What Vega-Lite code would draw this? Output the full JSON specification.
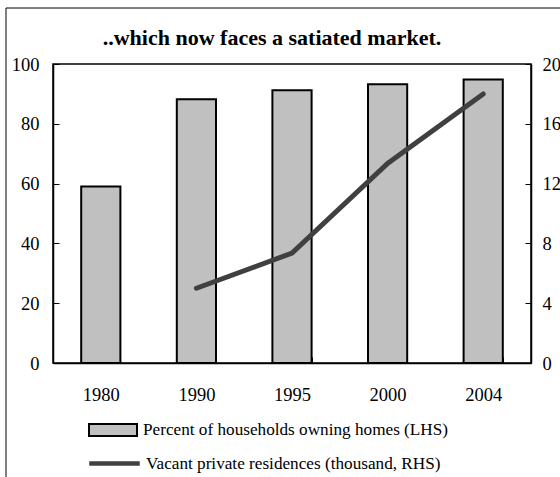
{
  "$schema": "https://vega.github.io/schema/vega-lite/v6.json",
  "width": 478,
  "height": 299,
  "autosize": "none",
  "padding": {"left": 53, "top": 64, "right": 29, "bottom": 114},
  "background": "white",
  "title": {
    "text": "..which now faces a satiated market.",
    "font": "Liberation Serif",
    "fontSize": 22,
    "fontWeight": "bold",
    "color": "black",
    "anchor": "middle",
    "frame": "group",
    "dx": -20,
    "offset": -43
  },
  "data": {
    "values": [
      {"year": "1980", "pct": 59, "vacant": null},
      {"year": "1990", "pct": 88.2, "vacant": 5.0},
      {"year": "1995", "pct": 91.2, "vacant": 7.35},
      {"year": "2000", "pct": 93.2, "vacant": 13.35},
      {"year": "2004", "pct": 94.8, "vacant": 18.0}
    ]
  },
  "encoding": {
    "x": {
      "field": "year",
      "type": "nominal",
      "scale": {"paddingInner": 0.59, "paddingOuter": 0.295},
      "axis": {
        "title": null,
        "labelAngle": 0,
        "tickBand": "extent",
        "tickSize": -6,
        "labelPadding": 28
      }
    }
  },
  "layer": [
    {
      "mark": {"type": "bar", "stroke": "black", "strokeWidth": 2},
      "encoding": {
        "y": {
          "field": "pct",
          "type": "quantitative",
          "scale": {"domain": [0, 100]},
          "axis": {"title": null, "orient": "left", "values": [0, 20, 40, 60, 80, 100], "tickSize": -6, "labelPadding": 20}
        },
        "fill": {
          "datum": "Percent of households owning homes (LHS)",
          "type": "nominal",
          "scale": {"range": ["#c0c0c0"]},
          "legend": {
            "title": null,
            "orient": "none",
            "legendX": 35,
            "legendY": 341,
            "padding": 0,
            "symbolType": "M-1,-0.25H1V0.25H-1Z",
            "symbolSize": 2304,
            "symbolStrokeColor": "black",
            "symbolStrokeWidth": 2,
            "labelFont": "Liberation Serif",
            "labelFontSize": 17.2,
            "labelColor": "black",
            "labelOffset": 5,
            "labelLimit": 500
          }
        },
        "opacity": {
          "datum": "frame",
          "type": "nominal",
          "scale": {"range": [1]},
          "legend": {
            "title": null,
            "orient": "none",
            "legendX": -47.5,
            "legendY": -56.5,
            "padding": 600,
            "strokeColor": "black",
            "symbolSize": 0,
            "symbolOpacity": 0,
            "labelExpr": "''",
            "labelFontSize": 1
          }
        }
      }
    },
    {
      "transform": [{"filter": "datum.vacant != null"}],
      "mark": {"type": "line", "strokeWidth": 5, "strokeCap": "round"},
      "encoding": {
        "y": {
          "field": "vacant",
          "type": "quantitative",
          "scale": {"domain": [0, 20]},
          "axis": {"title": null, "orient": "right", "values": [0, 4, 8, 12, 16, 20], "tickSize": -6, "labelPadding": 17}
        },
        "stroke": {
          "datum": "Vacant private residences (thousand, RHS)",
          "type": "nominal",
          "scale": {"range": ["#404040"]},
          "legend": {
            "title": null,
            "orient": "none",
            "legendX": 34,
            "legendY": 372,
            "padding": 0,
            "symbolType": "stroke",
            "symbolSize": 2550,
            "symbolStrokeWidth": 4.5,
            "labelFont": "Liberation Serif",
            "labelFontSize": 17.2,
            "labelColor": "black",
            "labelOffset": 4,
            "labelLimit": 500
          }
        }
      }
    }
  ],
  "resolve": {"scale": {"y": "independent"}},
  "config": {
    "view": {"stroke": "black", "strokeWidth": 1.5},
    "axis": {
      "labelFont": "Liberation Serif",
      "labelFontSize": 18.5,
      "labelColor": "black",
      "domainColor": "black",
      "domainWidth": 1.5,
      "tickColor": "black",
      "tickWidth": 1,
      "grid": false
    }
  }
}
